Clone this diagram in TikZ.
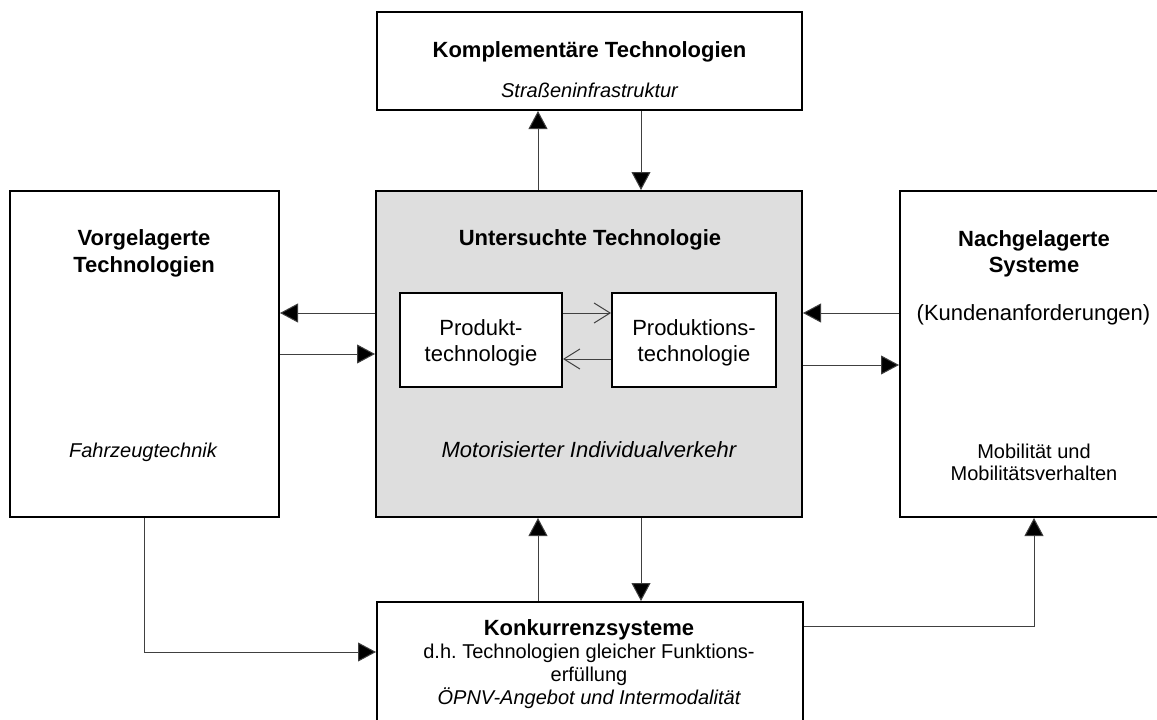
\documentclass[tikz,border=0pt]{standalone}
\usepackage{fontspec}
\setmainfont{Liberation Sans}
\usetikzlibrary{arrows.meta}
\frenchspacing
\tikzset{
  box/.style={draw=black, line width=2pt, inner sep=0pt, fill=white},
  graybox/.style={box, fill=black!13},
  arr/.style={draw=black!75, line width=1pt, -{Triangle[length=18pt,width=19pt,fill=black]}},
  openarr/.style={draw=black!75, line width=1pt, -{Straight Barb[length=16pt,width=20pt,line width=1pt]}},
  txt/.style={inner sep=0pt, anchor=base, text=black},
  bigb/.style={txt, font=\fontsize{22}{26}\selectfont\bfseries},
  big/.style={txt, font=\fontsize{22}{26}\selectfont},
  bigi/.style={txt, font=\fontsize{22}{26}\selectfont\itshape},
  small/.style={txt, font=\fontsize{20}{24}\selectfont},
  smalli/.style={txt, font=\fontsize{20}{24}\selectfont\itshape},
}
\begin{document}
\begin{tikzpicture}[x=1pt, y=-1pt]
\useasboundingbox (0,0) rectangle (1157,720);
\clip (0,0) rectangle (1157,720);
\fill[white] (0,0) rectangle (1157,720);

% boxes
\node[box, minimum width=425pt, minimum height=98pt] (top) at (589.5,61) {};
\node[graybox, minimum width=426pt, minimum height=326pt] (mid) at (589,354) {};
\node[box, minimum width=269pt, minimum height=326pt] (left) at (144.5,354) {};
\node[box, minimum width=268pt, minimum height=326pt] (right) at (1034,354) {};
\node[box, minimum width=426pt, minimum height=138pt] (bot) at (590,671) {};
\node[box, minimum width=162pt, minimum height=94pt] (prod) at (481,340) {};
\node[box, minimum width=164pt, minimum height=94pt] (prodn) at (694,340) {};

% texts
\node[bigb] (t1) at (589.5,57) {Komplementäre Technologien};
\node[smalli] (t2) at (589.5,97) {Straßeninfrastruktur};
\node[bigb] (m1) at (590,245) {Untersuchte Technologie};
\node[bigi] (m2) at (589,457) {Motorisierter Individualverkehr};
\node[big] (p1) at (481,335) {Produkt-};
\node[big] (p2) at (481,361) {technologie};
\node[big] (q1) at (694,335) {Produktions-};
\node[big] (q2) at (694,361) {technologie};
\node[bigb] (l1) at (144,245) {Vorgelagerte};
\node[bigb] (l2) at (144,272) {Technologien};
\node[smalli] (l3) at (143,457) {Fahrzeugtechnik};
\node[bigb] (r1) at (1034,246) {Nachgelagerte};
\node[bigb] (r2) at (1034,272) {Systeme};
\node[big] (r3) at (1033.5,320) {(Kundenanforderungen)};
\node[small] (r4) at (1034,458) {Mobilität und};
\node[small] (r5) at (1034,480) {Mobilitätsverhalten};
\node[bigb] (b1) at (589,635) {Konkurrenzsysteme};
\node[small] (b2) at (589,658) {d.h. Technologien gleicher Funktions-};
\node[small] (b3) at (589,681) {erfüllung};
\node[smalli] (b4) at (589,704) {ÖPNV-Angebot und Intermodalität};

% helper coordinates
\coordinate (xa) at (538,0);
\coordinate (xb) at (641,0);
\coordinate (ya) at (0,313);
\coordinate (yb) at (0,354);
\coordinate (yc) at (0,365);
\coordinate (yi) at (0,359);
\coordinate (yl) at (0,652);
\coordinate (yr) at (0,626);

% connectors top
\draw[arr] (mid.north -| xa) -- (top.south -| xa);
\draw[arr] (top.south -| xb) -- (mid.north -| xb);
% connectors bottom
\draw[arr] (bot.north -| xa) -- (mid.south -| xa);
\draw[arr] (mid.south -| xb) -- (bot.north -| xb);
% left
\draw[arr] (mid.west |- ya) -- (left.east |- ya);
\draw[arr] (left.east |- yb) -- (mid.west |- yb);
% right
\draw[arr] (right.west |- ya) -- (mid.east |- ya);
\draw[arr] (mid.east |- yc) -- (right.west |- yc);
% inner
\draw[openarr] (prod.east |- ya) -- (prodn.west |- ya);
\draw[openarr] (prodn.west |- yi) -- (prod.east |- yi);
% elbows
\draw[arr] (left.south) |- (bot.west |- yl);
\draw[arr] (bot.east |- yr) -| (right.south);
\end{tikzpicture}
\end{document}
